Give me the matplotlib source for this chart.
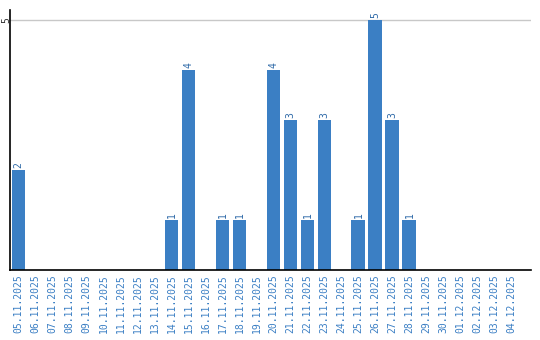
import matplotlib
matplotlib.use("Agg")
import matplotlib.pyplot as plt
import pandas as pd

# daily counts, 05.11.2025 - 04.12.2025
dates = [d.strftime("%d.%m.%Y") for d in pd.date_range("2025-11-05", "2025-12-04")]
counts = [2, 0, 0, 0, 0, 0, 0, 0, 0, 1,
          4, 0, 1, 1, 0, 4, 3, 1, 3, 0,
          1, 5, 3, 1, 0, 0, 0, 0, 0, 0]

BLUE = "#3b7fc4"

fig = plt.figure(figsize=(5.4, 3.4), dpi=100)
ax = fig.add_axes([10 / 540, 70 / 340, 521 / 540, 260 / 340])

x = list(range(len(dates)))
bars = ax.bar(x, counts, width=0.82, color=BLUE, zorder=2)

for xi, c in zip(x, counts):
    if c > 0:
        ax.text(xi, c + 0.05, str(c), rotation=90, ha="center", va="bottom",
                color="#2f6aa8", fontsize=7, family="DejaVu Sans Mono")

ax.set_xlim(-0.5, 30.15)
ax.set_ylim(0, 5.2)
ax.set_yticks([5])
ax.set_yticklabels(["5"], rotation=90, va="center", ha="center", fontsize=7,
                   family="DejaVu Sans Mono", color="#333333")
ax.yaxis.grid(True, color="#c8c8c8", linewidth=1, zorder=0)
ax.set_xticks(x)
ax.set_xticklabels(dates, rotation=90, fontsize=7, color=BLUE,
                   family="DejaVu Sans Mono")
ax.tick_params(axis="x", length=0, pad=3)
ax.tick_params(axis="y", length=0, pad=2.5)

for s in ["top", "right"]:
    ax.spines[s].set_visible(False)
ax.spines["left"].set_linewidth(1.2)
ax.spines["bottom"].set_linewidth(1.2)

fig.savefig("out.png", dpi=100)
